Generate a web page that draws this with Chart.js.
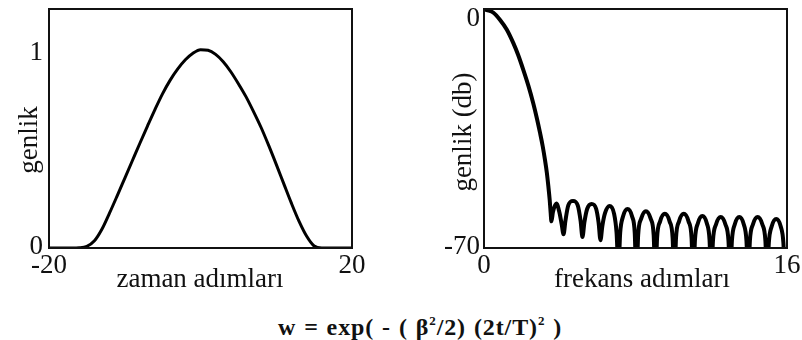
<!DOCTYPE html>
<html>
<head>
<meta charset="utf-8">
<script src="https://cdn.jsdelivr.net/npm/chart.js@4"></script>
<style>
  html, body { margin: 0; padding: 0; background: #fff; }
  body { width: 802px; height: 340px; position: relative; overflow: hidden; }
  canvas { position: absolute; top: 0; }
  #timeChart { left: 0; }
  #freqChart { left: 401px; }
  .formula {
    position: absolute; left: 278px; top: 313px;
    font: bold 24px "Liberation Serif", serif; color: #111;
    white-space: nowrap; line-height: 28px;
    letter-spacing: 0.9px; word-spacing: 1px;
  }
  .formula sup { font-size: 13px; vertical-align: 10px; line-height: 0; }
</style>
</head>
<body>
<canvas id="timeChart" width="401" height="300"></canvas>
<canvas id="freqChart" width="401" height="300"></canvas>
<div class="formula">w = exp( - ( β<sup>2</sup>/2) (2t/T)<sup>2</sup> )</div>
<script>
// time window (left)
const timeSteps = [-20, -19, -18, -17, -16, -15, -14, -13, -12, -11, -10, -9, -8, -7, -6, -5, -4, -3, -2, -1,
  0, 1, 2, 3, 4, 5, 6, 7, 8, 9, 10, 11, 12, 13, 14, 15, 16, 17, 18, 19, 20];
const amplitude = [0, 0, 0, 0, 0.001, 0.008, 0.036, 0.095, 0.176, 0.262, 0.35, 0.438, 0.526, 0.612, 0.696, 0.775, 0.843, 0.899, 0.945, 0.978,
  0.996, 0.993, 0.972, 0.935, 0.885, 0.825, 0.76, 0.685, 0.605, 0.515, 0.42, 0.322, 0.225, 0.135, 0.06, 0.01, 0, 0, 0, 0, 0];
const timeTicks = [-20, 20];
const amplitudeTicks = [0, 1];

// spectrum (right)
const freqSteps = [0, 0.15, 0.5, 0.85, 1.2, 1.55, 1.8, 2.08, 2.35, 2.6, 2.8, 2.96, 3.1, 3.22, 3.32, 3.4, 3.47, 3.52, 3.56,
  3.64, 3.82, 3.98, 4.1, 4.2, 4.3, 4.45, 4.7, 4.95, 5.1, 5.2, 5.3, 5.45, 5.68, 5.92, 6.05, 6.15,
  6.25, 6.39, 6.63, 6.87, 7.0, 7.1,
  7.19, 7.34, 7.58, 7.82, 7.96, 8.05,
  8.14, 8.3, 8.55, 8.8, 8.96, 9.05,
  9.14, 9.3, 9.55, 9.8, 9.96, 10.05,
  10.14, 10.3, 10.55, 10.8, 10.96, 11.05,
  11.14, 11.29, 11.53, 11.77, 11.91, 12.0,
  12.09, 12.25, 12.5, 12.75, 12.91, 13.0,
  13.09, 13.24, 13.48, 13.72, 13.86, 13.95,
  14.04, 14.2, 14.45, 14.7, 14.86, 14.95,
  15.04, 15.19, 15.43, 15.67, 15.81, 15.9, 16];
const gainDb = [0, -0.3, -1.1, -3.2, -6.0, -10.0, -13.4, -17.9, -22.6, -27.6, -32.2, -36.3, -40.2, -44.2, -48.0, -52.0, -56.0, -59.7, -62.2,
  -59.5, -57.0, -59.5, -63.0, -66.0, -62.0, -57.5, -56.2, -57.5, -62.0, -66.8, -62.5, -58.5, -57.1, -58.5, -62.5, -67.7,
  -63.5, -59.8, -57.7, -60.0, -65.5, -76,
  -65.6, -60.8, -58.6, -60.8, -65.6, -80,
  -66.2, -61.4, -59.2, -61.4, -66.2, -80,
  -67, -62.2, -60, -62.2, -67, -80,
  -67, -62.2, -60, -62.2, -67, -80,
  -67.6, -62.8, -60.6, -62.8, -67.6, -80,
  -67.9, -63.1, -60.9, -63.1, -67.9, -80,
  -67.9, -63.1, -60.9, -63.1, -67.9, -80,
  -67.9, -63.1, -60.9, -63.1, -67.9, -80,
  -68.5, -63.7, -61.5, -63.7, -68.5, -80, -74];
const freqTicks = [0, 16];
const gainTicks = [0, -70];

const FONT = '27px "Liberation Serif", serif';
const INK = '#111';

// box + tick labels + axis titles, placed with the chart's own scales
const framePlugin = {
  id: 'frame',
  afterDraw(chart, args, opts) {
    const { ctx, chartArea: a, scales } = chart;
    ctx.save();
    ctx.strokeStyle = INK;
    ctx.lineWidth = 2;
    ctx.strokeRect(a.left, a.top, a.right - a.left, a.bottom - a.top);

    ctx.fillStyle = INK;
    ctx.font = FONT;
    ctx.textBaseline = 'middle';
    ctx.textAlign = 'right';
    opts.yTicks.forEach(v => {
      let py = scales.y.getPixelForValue(v);
      py = Math.min(Math.max(py, a.top + 6), a.bottom - 5);
      ctx.fillText(String(v), a.left - opts.yTickGap, py + 4);
    });
    ctx.textAlign = 'center';
    opts.xTicks.forEach(v => {
      ctx.fillText(String(v), scales.x.getPixelForValue(v), a.bottom + 18);
    });

    ctx.textBaseline = 'alphabetic';
    ctx.fillText(opts.xTitle, opts.xTitleX, opts.xTitleY);
    ctx.translate(opts.yTitleX, opts.yTitleY);
    ctx.rotate(-Math.PI / 2);
    ctx.fillText(opts.yTitle, 0, 0);
    ctx.restore();
  }
};

function lineChart(id, xs, ys, xRange, yRange, padding, lineWidth, frame) {
  new Chart(document.getElementById(id), {
    type: 'line',
    data: {
      datasets: [{
        data: xs.map((x, i) => ({ x: x, y: ys[i] })),
        borderColor: '#000',
        borderWidth: lineWidth,
        pointRadius: 0,
        cubicInterpolationMode: 'monotone',
        fill: false
      }]
    },
    options: {
      responsive: false,
      animation: false,
      layout: { padding: padding },
      plugins: {
        legend: { display: false },
        tooltip: { enabled: false },
        frame: frame
      },
      scales: {
        x: { type: 'linear', min: xRange[0], max: xRange[1], display: false },
        y: { type: 'linear', min: yRange[0], max: yRange[1], display: false }
      }
    },
    plugins: [framePlugin]
  });
}

lineChart('timeChart', timeSteps, amplitude, [-20, 20], [0, 1.2],
  { left: 49, right: 49, top: 9, bottom: 52 }, 3, {
    xTicks: timeTicks, yTicks: amplitudeTicks, yTickGap: 6,
    xTitle: 'zaman adımları', xTitleX: 200, xTitleY: 287,
    yTitle: 'genlik', yTitleX: 37, yTitleY: 140
  });

lineChart('freqChart', freqSteps, gainDb, [0, 16], [-70, 0],
  { left: 83, right: 15, top: 9, bottom: 52 }, 4, {
    xTicks: freqTicks, yTicks: gainTicks, yTickGap: 4,
    xTitle: 'frekans adımları', xTitleX: 241, xTitleY: 287,
    yTitle: 'genlik (db)', yTitleX: 70, yTitleY: 132
  });
</script>
</body>
</html>
